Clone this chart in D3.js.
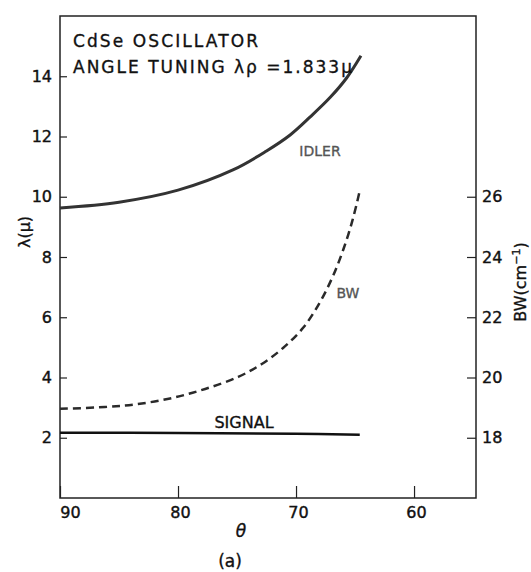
<!doctype html>
<html lang="en">
	<head>
		<meta charset="UTF-8">
		<title>CdSe oscillator angle tuning</title>
		<style>
			body { margin: 0; background: #fff; }
			svg { display: block; }
			.tick text { font-family: "DejaVu Sans", sans-serif; font-size: 16px; fill: #111; stroke: #111; stroke-width: 0.4; }
			.tick line { stroke: #222; stroke-width: 1.2; }
			.lbl { font-family: "DejaVu Sans", sans-serif; fill: #111; stroke: #111; stroke-width: 0.35; }
		</style>
	</head>
	<body>
		<svg id="chart"></svg>

		<script src="https://cdn.jsdelivr.net/npm/d3@7"></script>
		<script>

			// Data
			var thetaTicks = [90, 80, 70, 60];
			var lambdaTicks = [2, 4, 6, 8, 10, 12, 14];
			var bwTicks = [18, 20, 22, 24, 26];

			var idlerTheta = [90, 85, 80, 75.3, 72.5, 70.5, 68.8, 67.1, 65.7, 64.5];
			var idlerLambda = [9.63, 9.82, 10.22, 10.9, 11.52, 12.05, 12.65, 13.3, 13.95, 14.68];

			var bwTheta = [90, 86.2, 83.4, 80.5, 77.7, 74.9, 72.9, 71.1, 69.4, 68.0, 66.9, 66.0, 65.2, 64.6];
			var bwValue = [18.96, 19.02, 19.12, 19.32, 19.62, 20.02, 20.45, 20.98, 21.65, 22.48, 23.34, 24.24, 25.24, 26.2];

			var signalTheta = [90, 80, 70, 64.6];
			var signalLambda = [2.17, 2.16, 2.13, 2.1];

			// plot box (note: "top" is taken by window, so use plot* names)
			var W = 531, H = 572;
			var plotL = 60, plotR = 476, plotT = 16, plotB = 498;

			var svg = d3.select("#chart").attr("width", W).attr("height", H);

			var x = d3.scaleLinear().domain([90, 54.75]).range([plotL, plotR]);
			var y = d3.scaleLinear().domain([0, 16]).range([plotB, plotT]);
			var y2 = d3.scaleLinear().domain([16, 32]).range([plotB, plotT]);

			// axes, ticks point inward
			svg.append("g")
				.attr("transform", "translate(" + plotL + ",0)")
				.call(d3.axisLeft(y).tickValues(lambdaTicks).tickSize(-7).tickPadding(8))
				.call(function(g) { g.select(".domain").remove(); });

			svg.append("g")
				.attr("transform", "translate(" + plotR + ",0)")
				.call(d3.axisRight(y2).tickValues(bwTicks).tickSize(-9).tickPadding(6))
				.call(function(g) { g.select(".domain").remove(); });

			svg.append("g")
				.attr("transform", "translate(0," + plotB + ")")
				.call(d3.axisBottom(x).tickValues(thetaTicks).tickSize(-12).tickPadding(9))
				.call(function(g) {
					g.select(".domain").remove();
					// the 90 label sits right of the corner in the original
					g.selectAll(".tick text").attr("dx", function(d) { return d === 90 ? 10 : 2; });
				});

			// frame
			svg.append("rect")
				.attr("x", plotL).attr("y", plotT)
				.attr("width", plotR - plotL).attr("height", plotB - plotT)
				.attr("fill", "none").attr("stroke", "#222").attr("stroke-width", 1.5);

			var line = d3.line().curve(d3.curveCatmullRom.alpha(0.5));

			// idler
			svg.append("path")
				.attr("d", line(idlerTheta.map(function(t, i) { return [x(t), y(idlerLambda[i])]; })))
				.attr("fill", "none").attr("stroke", "#333").attr("stroke-width", 3);

			// bandwidth, right axis
			svg.append("path")
				.attr("d", line(bwTheta.map(function(t, i) { return [x(t), y2(bwValue[i])]; })))
				.attr("fill", "none").attr("stroke", "#2a2a2a").attr("stroke-width", 2.5)
				.attr("stroke-dasharray", "8,5");

			// signal
			svg.append("path")
				.attr("d", line(signalTheta.map(function(t, i) { return [x(t), y(signalLambda[i])]; })))
				.attr("fill", "none").attr("stroke", "#111").attr("stroke-width", 2.5);

			// curve labels
			svg.append("text").attr("class", "lbl").attr("x", 320).attr("y", 156)
				.attr("text-anchor", "middle").attr("font-size", 14)
				.style("fill", "#555").style("stroke", "#555").text("IDLER");
			svg.append("text").attr("class", "lbl").attr("x", 348).attr("y", 298)
				.attr("text-anchor", "middle").attr("font-size", 14)
				.style("fill", "#555").style("stroke", "#555").text("BW");
			svg.append("text").attr("class", "lbl").attr("x", 244).attr("y", 428)
				.attr("text-anchor", "middle").attr("font-size", 16).text("SIGNAL");

			// title
			svg.append("text").attr("class", "lbl").attr("x", 73).attr("y", 47)
				.attr("font-size", 17).attr("textLength", 185).attr("lengthAdjust", "spacing")
				.text("CdSe OSCILLATOR");
			svg.append("text").attr("class", "lbl").attr("x", 73).attr("y", 73)
				.attr("font-size", 17).attr("textLength", 279).attr("lengthAdjust", "spacing")
				.text("ANGLE TUNING λρ =1.833μ");

			// axis titles
			svg.append("text").attr("class", "lbl")
				.attr("transform", "translate(30,232) rotate(-90)")
				.attr("text-anchor", "middle").attr("font-size", 16).text("λ(μ)");

			var bwTitle = svg.append("text").attr("class", "lbl")
				.attr("transform", "translate(526,282) rotate(-90)")
				.attr("text-anchor", "middle").attr("font-size", 16);
			bwTitle.append("tspan").text("BW(cm");
			bwTitle.append("tspan").attr("dy", -6).attr("font-size", 11).text("−1");
			bwTitle.append("tspan").attr("dy", 6).text(")");

			svg.append("text").attr("class", "lbl").attr("x", 241).attr("y", 537)
				.attr("text-anchor", "middle").attr("font-size", 17).attr("font-style", "italic").text("θ");
			svg.append("text").attr("class", "lbl").attr("x", 230).attr("y", 567)
				.attr("text-anchor", "middle").attr("font-size", 17).text("(a)");

		</script>
	</body>
</html>
